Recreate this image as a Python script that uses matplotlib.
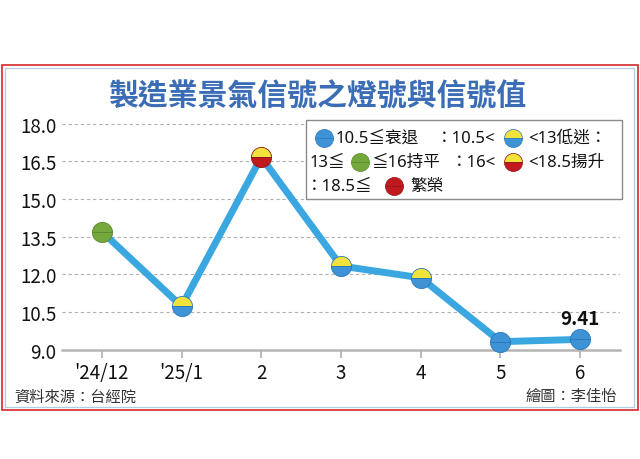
import matplotlib.pyplot as plt
from matplotlib.patches import Rectangle

# data
months = ["'24/12", "'25/1", "2", "3", "4", "5", "6"]
values = [13.70, 10.73, 16.66, 12.33, 11.86, 9.32, 9.41]
yticks = [9.0, 10.5, 12.0, 13.5, 15.0, 16.5, 18.0]
title = "製造業景氣信號之燈號與信號值"
source = "資料來源：台經院"
credit = "繪圖：李佳怡"

W, H = 640, 460
NUM = ['Liberation Sans Narrow', 'Noto Sans CJK TC', 'DejaVu Sans']
CJK = ['Noto Sans CJK TC', 'DejaVu Sans']
LEG = ['Noto Sans', 'Noto Sans CJK TC', 'DejaVu Sans']

BLUE = '#3d93d6'
YELLOW = '#f2e23c'
GREEN = '#74a83c'
RED = '#c01a1e'
LINE = '#3ba7e0'
EDGE = {BLUE: '#2a78b8', GREEN: '#5a8a2a', RED: '#8e1014'}


def light(v):
    # (top colour, bottom colour) of the signal light
    if v <= 10.5:
        return BLUE, BLUE
    if v < 13:
        return YELLOW, BLUE
    if v <= 16:
        return GREEN, GREEN
    if v < 18.5:
        return YELLOW, RED
    return RED, RED


fig = plt.figure(figsize=(6.4, 4.6), dpi=100)
ax = fig.add_axes([62 / W, 1 - 350.7 / H, (620 - 62) / W, (350.7 - 124.5) / H])

x = list(range(len(months)))
ax.plot(x, values, color=LINE, lw=5, zorder=3)
for i, v in zip(x, values):
    top, bot = light(v)
    ax.plot(i, v, 'o', ms=14.5, fillstyle='top', markerfacecolor=top,
            markerfacecoloralt=bot, markeredgecolor=EDGE[bot], mew=0.6,
            zorder=4, clip_on=False)

ax.annotate(f"{values[-1]:.2f}", (x[-1], values[-1]), xytext=(0, 8),
            textcoords='offset points', ha='center', va='bottom',
            fontsize=13.5, fontweight='bold', family=NUM, color='#111')

ax.set_xlim(-0.5, 6.5)
ax.set_ylim(9, 18)
ax.set_xticks(x)
ax.set_xticklabels(months, family=NUM, fontsize=13.5, color='#111')
ax.set_yticks(yticks)
ax.set_yticklabels([f"{t:.1f}" for t in yticks], family=NUM, fontsize=13.5, color='#111')
ax.tick_params(axis='y', length=0, pad=4)
ax.tick_params(axis='x', length=6, width=1.3, color='#b5b5b5', pad=3)
ax.grid(axis='y', ls=(0, (3, 2.5)), color='#b0b0b0', lw=0.8, zorder=1)
for s in ['left', 'right', 'top']:
    ax.spines[s].set_visible(False)
ax.spines['bottom'].set_color('#b5b5b5')
ax.spines['bottom'].set_linewidth(1.8)
ax.spines['bottom'].set_zorder(2)

# overlay in pixel coordinates for frame, title, legend, footer
ov = fig.add_axes([0, 0, 1, 1], zorder=5)
ov.set_xlim(0, W)
ov.set_ylim(H, 0)
ov.axis('off')

ov.add_patch(Rectangle((2, 66), 636, 345, fill=False, ec='#d8282c', lw=1.2))
ov.add_patch(Rectangle((5, 69), 629, 339, fill=False, ec='#b4cde6', lw=0.9))

ov.text(317, 97, title, ha='center', va='center', fontsize=21.5,
        color='#3a6db5', family=CJK, fontweight='bold')

ov.add_patch(Rectangle((306, 121), 316, 79, fc='white', ec='#8a8a8a', lw=1.0))


def icon(cx, cy, top, bot):
    ov.plot(cx, cy, 'o', ms=13, fillstyle='top', markerfacecolor=top,
            markerfacecoloralt=bot, markeredgecolor=EDGE[bot], mew=0.5)


def seg(px, cy, s, ha='left'):
    ov.text(px, cy, s, ha=ha, va='center', fontsize=12, family=LEG, color='#111')


icon(324, 139, BLUE, BLUE)
seg(336, 139, "10.5≦衰退")
seg(496, 139, "：10.5<", ha='right')
icon(513, 139, YELLOW, BLUE)
seg(528, 139, "<13低迷：")
seg(310, 163, "13≦")
icon(360, 163, GREEN, GREEN)
seg(371, 163, "≦16持平")
seg(496, 163, "：16<", ha='right')
icon(513, 163, YELLOW, RED)
seg(528, 163, "<18.5揚升")
seg(306, 187, "：18.5≦")
icon(394, 187, RED, RED)
seg(410, 187, "繁榮")

ov.text(14, 397, source, ha='left', va='center', fontsize=11, family=CJK, color='#333')
ov.text(617, 397, credit, ha='right', va='center', fontsize=11, family=CJK, color='#333')

fig.savefig('out.png', dpi=100, facecolor='white')
